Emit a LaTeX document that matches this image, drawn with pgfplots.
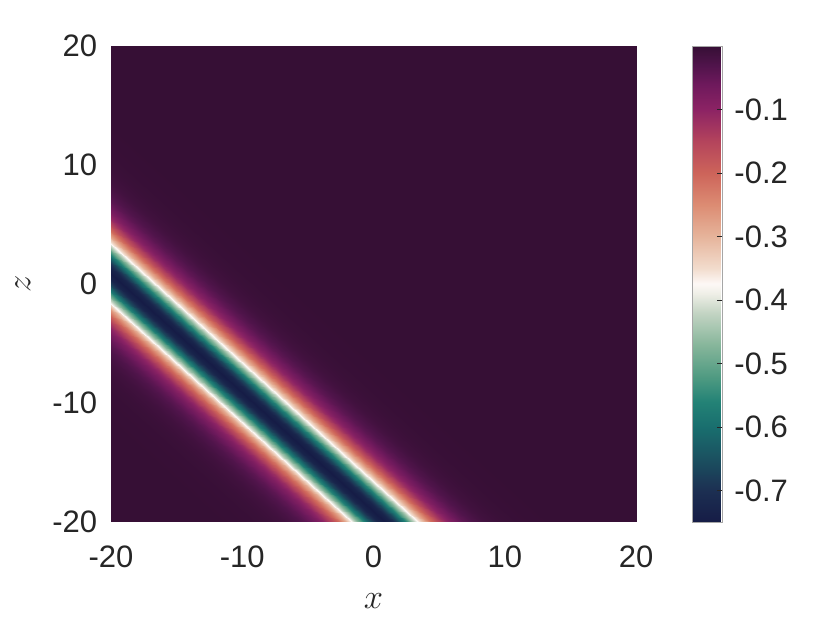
\documentclass[border=0pt]{standalone}
\usepackage{fontspec}
\setmainfont{Liberation Sans}
\usepackage{pgfplots}
\pgfplotsset{compat=1.18}
\definecolor{ticktext}{RGB}{38,38,38}
\begin{document}
\begin{tikzpicture}
\useasboundingbox (0pt,0pt) rectangle (415pt,311.5pt);
\begin{axis}[
  at={(55.5pt,50.5pt)}, anchor=south west,
  scale only axis, width=262.5pt, height=238pt,
  xmin=-20, xmax=20, ymin=-20, ymax=20,
  axis line style={draw=none},
  tick style={draw=none},
  xtick={-20,-10,0,10,20}, xticklabels={-20,-10,0,10,20},
  ytick={-20,-10,0,10,20}, yticklabels={-20,-10,0,10,20},
  ticklabel style={font=\fontsize{15.5}{18}\selectfont, text=ticktext, inner sep=0pt},
  xticklabel style={anchor=north, yshift=-11.5pt},
  yticklabel style={anchor=east, xshift=-6.75pt},
  xlabel={$x$}, ylabel={$z$},
  label style={font=\fontsize{17}{20}\selectfont, text=ticktext},
  xlabel style={at={(axis description cs:0.5,0)}, anchor=center, yshift=-39.5pt, inner sep=0pt},
  ylabel style={at={(axis description cs:0,0.5)}, anchor=center, yshift=44pt, inner sep=0pt},
  colormap={curl}{
    rgb255(0pt)=(22,28,70)
    rgb255(49pt)=(28,47,82)
    rgb255(99pt)=(27,80,96)
    rgb255(149pt)=(25,110,110)
    rgb255(189pt)=(35,130,118)
    rgb255(229pt)=(80,155,130)
    rgb255(279pt)=(135,182,155)
    rgb255(329pt)=(195,212,195)
    rgb255(359pt)=(238,238,230)
    rgb255(375pt)=(253,248,246)
    rgb255(399pt)=(242,220,205)
    rgb255(449pt)=(230,180,155)
    rgb255(499pt)=(220,140,115)
    rgb255(549pt)=(205,100,90)
    rgb255(599pt)=(180,68,92)
    rgb255(649pt)=(140,35,100)
    rgb255(689pt)=(110,25,92)
    rgb255(719pt)=(80,20,75)
    rgb255(749pt)=(54,15,53)
  },
  point meta min=-0.749, point meta max=0,
  colorbar,
  colorbar style={
    at={(parent axis.north east)}, anchor=north west, xshift=19.5pt,
    scale only axis, width=15pt, height=238pt,
    ytick={-0.7,-0.6,-0.5,-0.4,-0.3,-0.2,-0.1},
    yticklabels={-0.7,-0.6,-0.5,-0.4,-0.3,-0.2,-0.1},
    yticklabel pos=right, ytick pos=right,
    ytick align=inside, major tick length=2.5pt,
    tick style={draw=ticktext, line width=0.5pt},
    axis line style={draw=gray!70, line width=0.5pt},
    yticklabel style={anchor=west, inner sep=0pt, xshift=6pt,
      font=\fontsize{15.5}{18}\selectfont, text=ticktext},
  },
]
\addplot[surf, shader=interp, mesh/cols=2, point meta=explicit] table[meta=v] {
x y v
-25 -17.1 0
25 -67.1 0
-25 -10.1 0
25 -60.1 0
-25 -6.1 -0.0006
25 -56.1 -0.0006
-25 -4.1 -0.0026
25 -54.1 -0.0026
-25 -3.1 -0.0053
25 -53.1 -0.0053
-25 -2.1 -0.0106
25 -52.1 -0.0106
-25 -1.6 -0.0152
25 -51.6 -0.0152
-25 -1.1 -0.0214
25 -51.1 -0.0214
-25 -0.6 -0.0302
25 -50.6 -0.0302
-25 -0.1 -0.0425
25 -50.1 -0.0425
-25 0.4 -0.0597
25 -49.6 -0.0597
-25 0.9 -0.0835
25 -49.1 -0.0835
-25 1.4 -0.1159
25 -48.6 -0.1159
-25 1.9 -0.1596
25 -48.1 -0.1596
-25 2.4 -0.2165
25 -47.6 -0.2165
-25 2.9 -0.2884
25 -47.1 -0.2884
-25 3.4 -0.3752
25 -46.6 -0.3752
-25 3.9 -0.4728
25 -46.1 -0.4728
-25 4.4 -0.5733
25 -45.6 -0.5733
-25 4.9 -0.6634
25 -45.1 -0.6634
-25 5.4 -0.7263
25 -44.6 -0.7263
-25 5.9 -0.749
25 -44.1 -0.749
-25 6.4 -0.7263
25 -43.6 -0.7263
-25 6.9 -0.6634
25 -43.1 -0.6634
-25 7.4 -0.5733
25 -42.6 -0.5733
-25 7.9 -0.4728
25 -42.1 -0.4728
-25 8.4 -0.3752
25 -41.6 -0.3752
-25 8.9 -0.2884
25 -41.1 -0.2884
-25 9.4 -0.2165
25 -40.6 -0.2165
-25 9.9 -0.1596
25 -40.1 -0.1596
-25 10.4 -0.1159
25 -39.6 -0.1159
-25 10.9 -0.0835
25 -39.1 -0.0835
-25 11.4 -0.0597
25 -38.6 -0.0597
-25 11.9 -0.0425
25 -38.1 -0.0425
-25 12.4 -0.0302
25 -37.6 -0.0302
-25 12.9 -0.0214
25 -37.1 -0.0214
-25 13.4 -0.0152
25 -36.6 -0.0152
-25 13.9 -0.0106
25 -36.1 -0.0106
-25 14.9 -0.0053
25 -35.1 -0.0053
-25 15.9 -0.0026
25 -34.1 -0.0026
-25 17.9 -0.0006
25 -32.1 -0.0006
-25 21.9 0
25 -28.1 0
-25 30.9 0
25 -19.1 0
-25 45.9 0
25 -4.1 0
-25 67.9 0
25 17.9 0
};
\end{axis}
\end{tikzpicture}
\end{document}
